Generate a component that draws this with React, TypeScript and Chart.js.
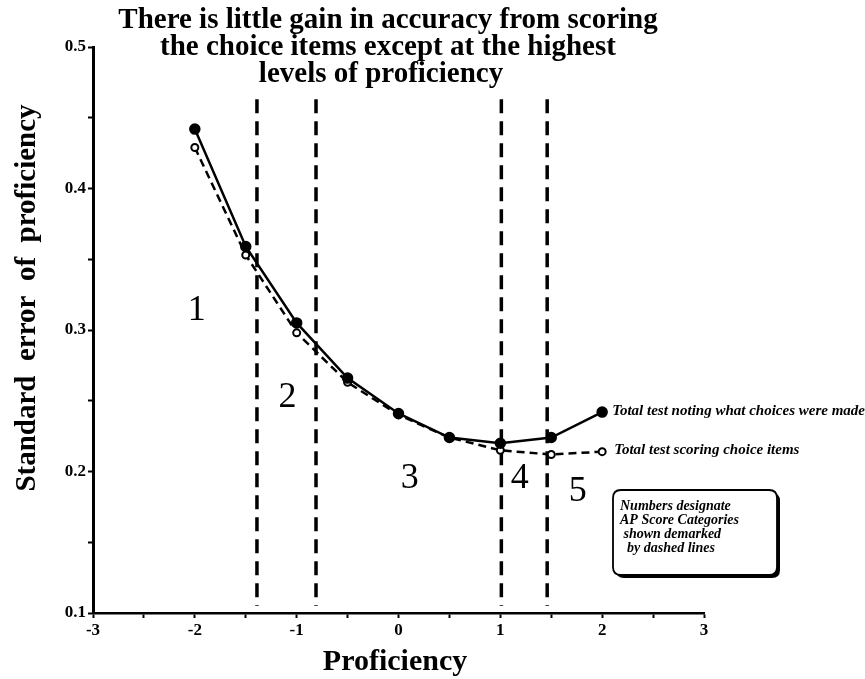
import React, { useEffect, useRef } from "react";
import { Chart, registerables } from "chart.js";

Chart.register(...registerables);

// ---- data ----
const proficiency = [-2, -1.5, -1, -0.5, 0, 0.5, 1, 1.5, 2];
const notingSE = [0.442, 0.359, 0.305, 0.266, 0.241, 0.224, 0.22, 0.224, 0.242];
const scoringSE = [0.429, 0.353, 0.298, 0.263, 0.24, 0.224, 0.215, 0.212, 0.214];
const cutoffs = [-1.39, -0.81, 1.01, 1.46];
const cutSpan = [0.463, 0.105];
const categoryLabels = ["1", "2", "3", "4", "5"];
const categoryX = [-1.98, -1.09, 0.11, 1.19, 1.76];
const categoryY = [0.314, 0.252, 0.195, 0.195, 0.186];
const xRange = [-3, 3];
const xStep = 0.5;
const yRange = [0.1, 0.5];
const yStep = 0.05;
const titleLines = [
  "There is little gain in accuracy from scoring",
  "the choice items except at the highest",
  "levels of proficiency",
];
const yTitle = "Standard  error  of  proficiency";
const xTitle = "Proficiency";
const seriesNames = [
  "Total test noting what choices were made",
  "Total test scoring choice items",
];
const noteLines = [
  "Numbers designate",
  "AP Score Categories",
  " shown demarked",
  "  by dashed lines",
];

const SERIF = '"Liberation Serif", "Times New Roman", serif';

const textPlugin = {
  id: "textPlugin",
  afterDraw(chart: any) {
    const ctx = chart.ctx;
    const xs = chart.scales.x;
    const ys = chart.scales.y;
    ctx.save();
    ctx.fillStyle = "#000";
    ctx.strokeStyle = "#000";

    // title
    ctx.font = `bold 29px ${SERIF}`;
    ctx.textAlign = "center";
    ctx.textBaseline = "middle";
    const tx = [388, 388, 381];
    const ty = [21, 48, 75];
    titleLines.forEach((t, i) => ctx.fillText(t, tx[i], ty[i]));

    // y title
    ctx.save();
    ctx.translate(28, 298);
    ctx.rotate(-Math.PI / 2);
    ctx.font = `bold 29px ${SERIF}`;
    ctx.fillText(yTitle, 0, 0);
    ctx.restore();

    // x title
    ctx.font = `bold 30px ${SERIF}`;
    ctx.fillText(xTitle, 395, 662);

    // category numbers
    ctx.font = `36px ${SERIF}`;
    categoryLabels.forEach((t, i) => {
      ctx.fillText(t, xs.getPixelForValue(categoryX[i]), ys.getPixelForValue(categoryY[i]));
    });

    // series labels next to last points
    ctx.font = `italic bold 15px ${SERIF}`;
    ctx.textAlign = "left";
    const lastX = xs.getPixelForValue(proficiency[proficiency.length - 1]);
    ctx.fillText(seriesNames[0], lastX + 10, ys.getPixelForValue(notingSE[notingSE.length - 1]) - 1);
    ctx.fillText(seriesNames[1], lastX + 12, ys.getPixelForValue(scoringSE[scoringSE.length - 1]) - 2);

    // note box with shadow
    const bx = 613, by = 490, bw = 164, bh = 85, r = 8;
    const rr = (x: number, y: number) => {
      ctx.beginPath();
      ctx.moveTo(x + r, y);
      ctx.lineTo(x + bw - r, y);
      ctx.quadraticCurveTo(x + bw, y, x + bw, y + r);
      ctx.lineTo(x + bw, y + bh - r);
      ctx.quadraticCurveTo(x + bw, y + bh, x + bw - r, y + bh);
      ctx.lineTo(x + r, y + bh);
      ctx.quadraticCurveTo(x, y + bh, x, y + bh - r);
      ctx.lineTo(x, y + r);
      ctx.quadraticCurveTo(x, y, x + r, y);
      ctx.closePath();
    };
    rr(bx + 3, by + 3);
    ctx.fill();
    rr(bx, by);
    ctx.fillStyle = "#fff";
    ctx.fill();
    ctx.lineWidth = 1.8;
    ctx.stroke();
    ctx.fillStyle = "#000";
    ctx.font = `italic bold 14px ${SERIF}`;
    ctx.textAlign = "left";
    noteLines.forEach((t, i) => ctx.fillText(t, 620, 506 + i * 14));

    ctx.restore();
  },
};

export default function App() {
  const ref = useRef<HTMLCanvasElement | null>(null);
  useEffect(() => {
    if (!ref.current) return;
    const pts = (ys: number[]) => proficiency.map((x, i) => ({ x, y: ys[i] }));
    const cutSets = cutoffs.map((c) => ({
      data: cutSpan.map((y) => ({ x: c, y })),
      showLine: true,
      borderColor: "#000",
      borderWidth: 3.5,
      borderDash: [14, 8],
      pointRadius: 0,
    }));
    const chart = new Chart(ref.current, {
      type: "scatter",
      data: {
        datasets: [
          {
            data: pts(notingSE),
            showLine: true,
            borderColor: "#000",
            borderWidth: 2.5,
            pointRadius: 4.5,
            pointBackgroundColor: "#000",
            pointBorderColor: "#000",
          },
          {
            data: pts(scoringSE),
            showLine: true,
            borderColor: "#000",
            borderWidth: 2.5,
            borderDash: [8, 5],
            pointRadius: 3.5,
            pointBorderWidth: 2,
            pointBackgroundColor: "#fff",
            pointBorderColor: "#000",
          },
          ...cutSets,
        ] as any,
      },
      options: {
        responsive: false,
        animation: false,
        devicePixelRatio: 1,
        layout: { padding: { left: 0, top: 47, right: 161, bottom: 0 } },
        plugins: { legend: { display: false }, tooltip: { enabled: false } },
        scales: {
          x: {
            type: "linear",
            min: xRange[0],
            max: xRange[1],
            afterFit: (s: any) => {
              s.height = 66;
            },
            ticks: {
              stepSize: xStep,
              autoSkip: false,
              maxRotation: 0,
              padding: 2,
              color: "#000",
              font: { family: SERIF, size: 17, weight: "bold" },
              callback: (v: any) => (Number.isInteger(Number(v)) ? String(v) : ""),
            },
            grid: {
              drawOnChartArea: false,
              tickLength: 5,
              tickColor: "#000",
              tickWidth: 2,
            },
            border: { display: true, color: "#000", width: 2.5 },
          },
          y: {
            type: "linear",
            min: yRange[0],
            max: yRange[1],
            afterFit: (s: any) => {
              s.width = 93;
            },
            ticks: {
              stepSize: yStep,
              autoSkip: false,
              padding: 2,
              color: "#000",
              font: { family: SERIF, size: 17, weight: "bold" },
              callback: (v: any) =>
                Math.round(Number(v) * 100) % 10 === 0 ? Number(v).toFixed(1) : "",
            },
            grid: {
              drawOnChartArea: false,
              tickLength: 5,
              tickColor: "#000",
              tickWidth: 2,
            },
            border: { display: true, color: "#000", width: 3 },
          },
        },
      },
      plugins: [textPlugin],
    });
    return () => chart.destroy();
  }, []);
  return (
    <div style={{ position: "absolute", left: 0, top: 0, width: 865, height: 679, background: "#fff" }}>
      <canvas ref={ref} width={865} height={679} style={{ width: 865, height: 679, display: "block" }} />
    </div>
  );
}
